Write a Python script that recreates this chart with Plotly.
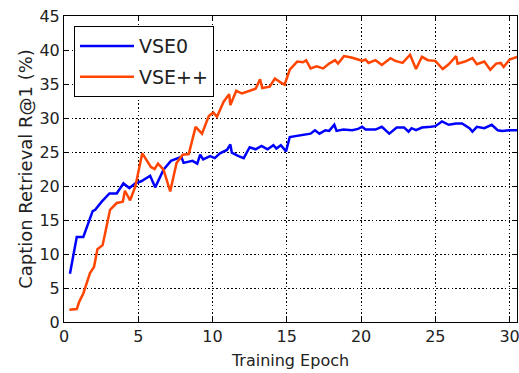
import plotly.graph_objects as go

vse0_epoch = [0.4, 0.86, 1.3, 1.93, 2.1, 2.54, 3.06, 3.55, 4.0, 4.4, 4.8, 5.2, 5.8, 6.14, 6.7, 7.2,
              7.9, 8.05, 8.65, 8.97, 9.17, 9.37, 9.84, 10.15, 10.5, 10.97, 11.2, 11.3, 11.75, 12.1,
              12.5, 12.9, 13.3, 13.7, 14.1, 14.3, 14.6, 14.95, 15.2, 15.85, 16.25, 16.6, 16.9, 17.2,
              17.6, 17.85, 18.2, 18.35, 18.8, 19.4, 19.8, 20.07, 20.3, 20.97, 21.4, 21.9, 22.4, 22.9,
              23.2, 23.4, 23.7, 24.1, 24.7, 25.0, 25.45, 25.9, 26.4, 26.8, 27.3, 27.5, 27.8, 28.3,
              28.8, 29.2, 29.5, 29.96, 30.5]
vse0_r1 = [7.1, 12.5, 12.5, 16.3, 16.5, 17.7, 18.9, 18.9, 20.4, 19.7, 20.4, 20.7, 21.5, 19.8, 22.4, 23.7,
           24.3, 23.4, 23.7, 23.3, 24.6, 23.9, 24.4, 24.1, 24.8, 25.3, 26.1, 24.9, 24.4, 24.1,
           25.7, 25.4, 25.9, 25.4, 26.0, 25.5, 26.0, 25.1, 27.2, 27.4, 27.6, 27.7, 28.2, 27.7,
           28.2, 28.1, 29.0, 28.1, 28.3, 28.2, 28.4, 28.7, 28.3, 28.3, 28.7, 27.7, 28.6, 28.6,
           28.0, 28.5, 28.2, 28.6, 28.7, 28.8, 29.5, 29.0, 29.2, 29.2, 28.5, 28.0, 28.7, 28.5,
           29.0, 28.2, 28.1, 28.2, 28.2]

vsepp_epoch = [0.36, 0.86, 1.03, 1.3, 1.75, 2.02, 2.25, 2.6, 3.1, 3.55, 3.96, 4.1, 4.45, 4.8, 5.27,
               5.85, 6.1, 6.33, 6.7, 7.15, 7.58, 8.0, 8.4, 8.86, 9.29, 9.75, 10.05, 10.3, 10.75,
               11.12, 11.2, 11.6, 11.98, 12.45, 12.9, 13.2, 13.35, 13.85, 14.2, 14.6, 14.85, 15.2,
               15.7, 16.1, 16.3, 16.6, 17.0, 17.45, 17.85, 18.25, 18.45, 18.85, 19.35, 19.8, 20.07,
               20.3, 20.5, 20.97, 21.4, 21.98, 22.3, 22.8, 23.3, 23.7, 24.1, 24.5, 25.0, 25.5, 25.9,
               26.4, 26.5, 27.0, 27.5, 27.8, 28.3, 28.7, 29.1, 29.4, 29.6, 30.0, 30.5]
vsepp_r1 = [1.8, 1.9, 3.0, 4.2, 7.2, 8.1, 10.7, 11.3, 16.5, 17.5, 17.7, 19.3, 17.9, 19.9, 24.8,
            22.8, 22.5, 23.3, 22.4, 19.2, 23.4, 24.6, 24.7, 28.7, 27.7, 30.3, 30.8, 30.2, 32.4,
            33.5, 31.9, 34.0, 33.6, 34.0, 34.3, 35.7, 34.4, 34.6, 35.8, 35.2, 34.9, 37.1,
            38.3, 38.2, 38.5, 37.3, 37.6, 37.3, 38.0, 38.5, 38.0, 39.1, 38.9, 38.6, 38.4,
            38.6, 38.1, 38.5, 37.8, 38.8, 38.4, 38.1, 39.3, 37.2, 39.0, 38.5, 38.4, 37.2, 37.9,
            39.1, 38.0, 38.3, 38.8, 37.9, 38.3, 37.1, 38.0, 38.1, 37.5, 38.6, 39.0]

x_ticks = [0, 5, 10, 15, 20, 25, 30]
y_ticks = [0, 5, 10, 15, 20, 25, 30, 35, 40, 45]

fig = go.Figure()
fig.add_trace(go.Scatter(x=vse0_epoch, y=vse0_r1, mode="lines", name="VSE0",
                         line=dict(color="#0000ff", width=2.5), legendgroup="a"))
fig.add_trace(go.Scatter(x=vsepp_epoch, y=vsepp_r1, mode="lines", name="VSE++",
                         line=dict(color="#ff4500", width=2.5), legendgroup="b"))

axis_common = dict(
    showline=True, linecolor="black", linewidth=1, mirror="allticks",
    ticks="inside", ticklen=4, tickcolor="black", tickwidth=1,
    showgrid=True, gridcolor="black", griddash="1.5px,2.3px", gridwidth=1.4,
    zeroline=False, tickfont=dict(size=16, color="#222"),
    ticklabeloverflow="allow",
)

fig.update_xaxes(range=[0, 30.5], tickvals=x_ticks,
                 title=dict(text="Training Epoch", font=dict(size=16, color="#222"), standoff=9),
                 **axis_common)
fig.update_yaxes(range=[0, 45], tickvals=y_ticks,
                 title=dict(text="Caption Retrieval R@1 (%)", font=dict(size=18, color="#222"), standoff=2),
                 **axis_common)

fig.update_layout(
    width=519, height=373,
    margin=dict(l=64, r=2, t=16, b=51, autoexpand=False),
    paper_bgcolor="white", plot_bgcolor="white",
    font=dict(family="DejaVu Sans", color="#222"),
    legend=dict(x=0.022, y=0.967, xanchor="left", yanchor="top",
                bordercolor="black", borderwidth=1, bgcolor="white",
                font=dict(size=19), tracegroupgap=3, itemwidth=54),
    showlegend=True,
)

fig.write_html("out.html")
